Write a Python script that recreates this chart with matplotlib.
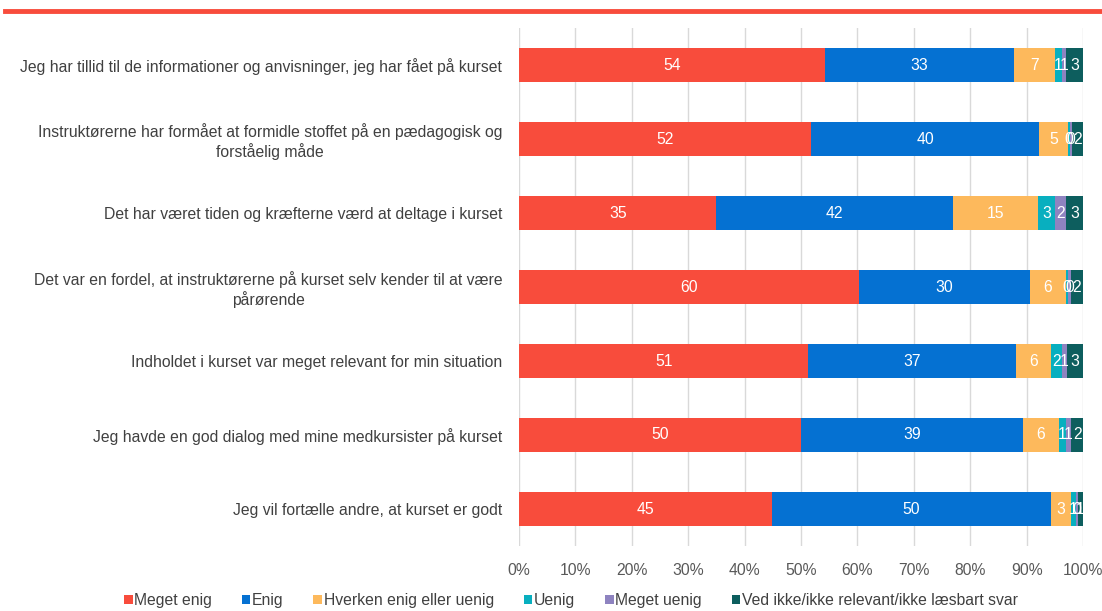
import matplotlib.pyplot as plt
from matplotlib.lines import Line2D
import numpy as np

plt.rcParams['font.family'] = ['Liberation Sans', 'DejaVu Sans']

# survey statements, top to bottom
statements = [
    'Jeg har tillid til de informationer og anvisninger, jeg har fået på kurset',
    'Instruktørerne har formået at formidle stoffet på en pædagogisk og\nforståelig måde',
    'Det har været tiden og kræfterne værd at deltage i kurset',
    'Det var en fordel, at instruktørerne på kurset selv kender til at være\npårørende',
    'Indholdet i kurset var meget relevant for min situation',
    'Jeg havde en god dialog med mine medkursister på kurset',
    'Jeg vil fortælle andre, at kurset er godt',
]

answers = ['Meget enig', 'Enig', 'Hverken enig eller uenig', 'Uenig',
           'Meget uenig', 'Ved ikke/ikke relevant/ikke læsbart svar']

# percentages per answer, one value per statement
meget_enig = [54.3, 51.8, 35.0, 60.3, 51.3, 50.0, 44.8]
enig = [33.4, 40.4, 42.0, 30.3, 36.9, 39.4, 49.6]
hverken = [7.3, 5.1, 15.0, 6.4, 6.1, 6.3, 3.4]
uenig = [1.2, 0.4, 3.0, 0.4, 2.0, 1.3, 0.9]
meget_uenig = [0.8, 0.4, 2.0, 0.4, 0.8, 0.9, 0.4]
ved_ikke = [3.0, 1.9, 3.0, 2.2, 2.9, 2.1, 0.9]

colors = ['#F84C3C', '#0571D2', '#FDB95C', '#08AFBF', '#8E83C0', '#0D5E5E']

series = np.array([meget_enig, enig, hverken, uenig, meget_uenig, ved_ikke])
shares = series / series.sum(axis=0) * 100

fs = 11.3

fig = plt.figure(figsize=(11.02, 6.11), dpi=100)
ax = fig.add_axes([519 / 1102, 1 - 546 / 611, 564 / 1102, 518 / 611])

y = np.arange(len(statements))
left = np.zeros(len(statements))
for vals, pct, name, col in zip(series, shares, answers, colors):
    bars = ax.barh(y, pct, left=left, height=0.46, color=col, label=name,
                   zorder=3)
    ax.bar_label(bars, labels=['%.0f' % v for v in vals], label_type='center',
                 color='white', fontsize=fs, zorder=4)
    left += pct

ax.set_xlim(0, 100)
ax.set_ylim(len(statements) - 0.5, -0.5)
ax.set_xticks(np.arange(0, 101, 10))
ax.set_xticklabels(['%d%%' % t for t in range(0, 101, 10)],
                   fontsize=fs, color='#595959')
ax.set_yticks(y)
ax.set_yticklabels(statements, fontsize=fs, color='#404040',
                   multialignment='center')
ax.tick_params(length=0, pad=12)
ax.tick_params(axis='x', pad=12)
ax.grid(axis='x', color='#D9D9D9', linewidth=1, zorder=0)
for s in ax.spines.values():
    s.set_visible(False)

fig.legend(loc='lower center', bbox_to_anchor=(0.518, -0.018), ncol=6,
           frameon=False, fontsize=fs, handlelength=0.55, handleheight=0.55,
           handletextpad=0.1, columnspacing=1.9, labelcolor='#404040')

# red rule across the top
fig.add_artist(Line2D([5 / 1102, 1], [1 - 11 / 611, 1 - 11 / 611],
                      color='#F84C3C', linewidth=3.5))

fig.savefig('out.png', dpi=100)
